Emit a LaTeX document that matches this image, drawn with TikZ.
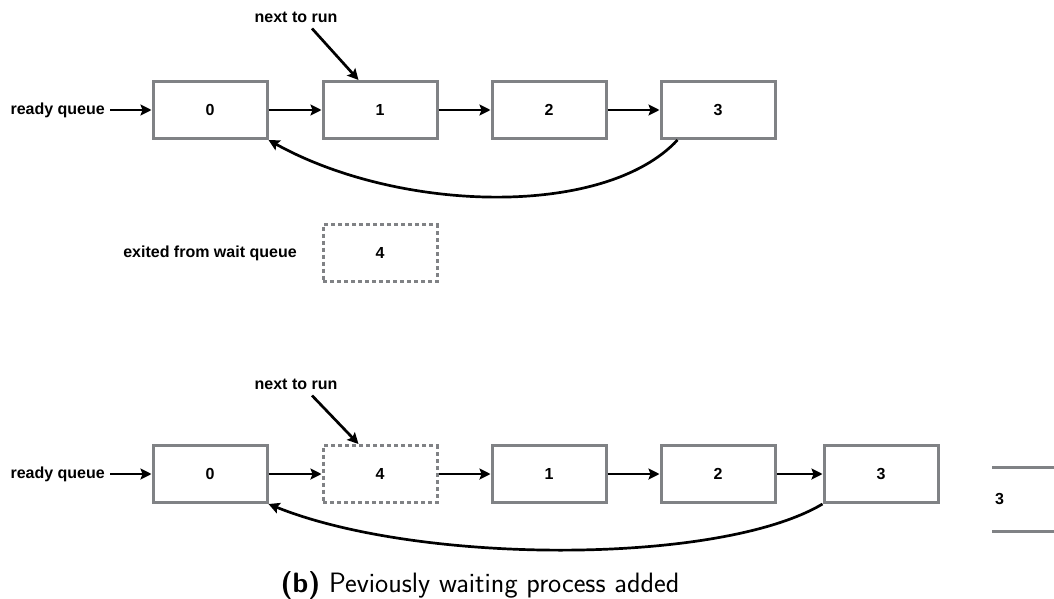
\documentclass[tikz,border=0pt]{standalone}
\usepackage{fontspec}
\newfontfamily\diagfont{Liberation Sans}
\usetikzlibrary{arrows.meta,calc}
\definecolor{boxgray}{RGB}{128,130,133}
\tikzset{
  proc/.style={draw=boxgray, line width=3pt, minimum width=114pt, minimum height=57pt,
               inner sep=0pt, font=\diagfont\bfseries\fontsize{16}{19}\selectfont},
  waitproc/.style={proc, dash pattern=on 4pt off 3pt},
  lbl/.style={inner sep=0pt, font=\diagfont\bfseries\fontsize{16}{19}\selectfont},
  link/.style={line width=2.7pt, -{Stealth[length=11pt,width=11pt,inset=2pt]}},
}
\begin{document}
\begin{tikzpicture}[x=1pt,y=-1pt]
\useasboundingbox (0,0) rectangle (1054,599);

% ---- before insertion ----
\node[lbl, anchor=east] (rq1) at (105,110) {ready queue};
\node[proc] (a0) at (210,110) {0};
\node[proc] (a1) at (380,110) {1};
\node[proc] (a2) at (549,110) {2};
\node[proc] (a3) at (718,110) {3};
\node[lbl] (nt1) at (296,17) {next to run};
\node[lbl] (ex) at (210,253) {exited from wait queue};
\node[waitproc] (w4) at (380,253) {4};

\draw[link] (rq1.east) ++(5,0) -- (a0.west);
\draw[link] (a0) -- (a1);
\draw[link] (a1) -- (a2);
\draw[link] (a2) -- (a3);
\draw[link] ($(nt1.south)+(16,6)$) -- ($(a1.north west)+(37,0)$);
\draw[link] ($(a3.south west)+(18,0)$) .. controls (605,218) and (400,213) .. (a0.south east);

% ---- after insertion ----
\node[lbl, anchor=east] (rq2) at (105,474) {ready queue};
\node[proc] (b0) at (210,474) {0};
\node[waitproc] (b4) at (380,474) {4};
\node[proc] (b1) at (549,474) {1};
\node[proc] (b2) at (718,474) {2};
\node[proc] (b3) at (881,474) {3};
\node[lbl] (nt2) at (296,384) {next to run};

\draw[link] (rq2.east) ++(5,0) -- (b0.west);
\draw[link] (b0) -- (b4);
\draw[link] (b4) -- (b1);
\draw[link] (b1) -- (b2);
\draw[link] (b2) -- (b3);
\draw[link] ($(nt2.south)+(16,6)$) -- ($(b4.north west)+(37,0)$);
\draw[link] (b3.south west) .. controls (720,565) and (420,565) .. (b0.south east);

% ---- cut-off box at the right edge ----
\draw[boxgray, line width=3pt] (992,467) -- (1054,467) (992,531) -- (1054,531);
\node[lbl, anchor=west] (c3) at (995,499) {3};

% ---- caption ----
\node[inner sep=0pt, anchor=base, font=\sffamily\fontsize{28}{33}\selectfont] (cap) at (480,592)
  {\textbf{(b)} Peviously waiting process added};
\end{tikzpicture}
\end{document}
